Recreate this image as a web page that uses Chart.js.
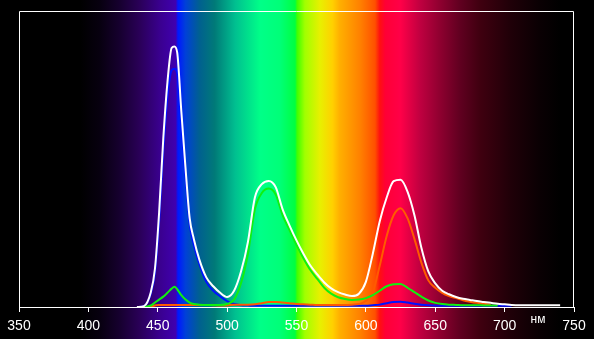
<!DOCTYPE html>
<html>
<head>
<meta charset="utf-8">
<script src="https://cdn.jsdelivr.net/npm/chart.js@4.4.0/dist/chart.umd.min.js"></script>
<style>
  html, body { margin: 0; padding: 0; background: #000; }
  #wrap { width: 594px; height: 339px; position: relative; }
</style>
</head>
<body>
<div id="wrap"><canvas id="spectrum"></canvas></div>
<script>
// wavelengths, nm
var wavelengths = [435, 440, 445, 448, 451, 454, 457, 460, 462, 464, 467, 470, 473, 476, 480, 485, 490, 495, 500, 505,
  510, 515, 520, 525, 530, 535, 540, 545, 550, 555, 560, 565, 570, 575, 580, 585, 590, 595, 600, 605,
  610, 615, 620, 625, 630, 635, 640, 645, 650, 655, 660, 665, 670, 675, 680, 685, 690, 695, 700, 705,
  710, 720, 730, 740];

// sum (white)
var whiteVals = [0, 0.3, 5, 13, 32, 57, 76, 87.5, 88, 86, 66, 47, 30, 23, 16, 10, 7, 4.8, 3.4, 5.5,
  12, 22, 37, 41.5, 42.6, 40.5, 33, 27.5, 22.5, 18, 14, 11, 8.3, 6.3, 5, 4.2, 3.7, 4.5, 8.5, 18,
  29, 37, 42.5, 43, 39, 31, 20, 12, 8, 5.5, 4.3, 3.4, 2.8, 2.4, 2, 1.7, 1.4, 1.1, 0.9, 0.7,
  0.6, 0.6, 0.6, 0.6];

var greenVals = [0, 0, 0.5, 1.5, 2.5, 3.5, 4.8, 6.2, 6.8, 6, 4, 2.5, 1.5, 1, 0.8, 0.7, 0.7, 0.7, 1, 2.5,
  8, 18, 33, 38.5, 40, 38, 31, 26, 21, 16.5, 12.5, 9.5, 6.5, 4.5, 3.3, 2.7, 2.4, 2.5, 3, 4,
  5.5, 7, 7.7, 7.8, 6.5, 5, 3.5, 2.2, 1.4, 1, 0.8, 0.7, 0.6, 0.6, 0.6, 0.5, 0.5, 0.5, null, null,
  null, null, null, null];

var blueVals = [0, 0.3, 4.5, 11.5, 29, 53, 71, 80, 80.5, 79, 61, 44, 28, 21, 14.5, 8.5, 5.5, 3.6, 2, 1,
  0.6, 0.5, 0.4, 0.4, 0.4, 0.4, 0.4, 0.4, 0.4, 0.4, 0.4, 0.4, 0.4, 0.4, 0.4, 0.4, 0.4, 0.4, 0.4, 0.6,
  0.8, 1.3, 1.7, 1.8, 1.5, 1.1, 0.8, 0.6, 0.5, 0.4, 0.4, 0.4, 0.4, 0.4, 0.4, 0.4, 0.4, 0.4, 0.4, 0.4,
  null, null, null, null];

var redVals = [0, 0, 0.2, 0.5, 0.7, 0.7, 0.7, 0.7, 0.7, 0.7, 0.7, 0.7, 0.7, 0.7, 0.7, 0.7, 0.6, 0.5, 0.5, 0.8,
  0.8, 0.8, 0.9, 1.3, 1.7, 1.7, 1.5, 1.3, 1, 0.9, 0.8, 0.7, 0.7, 0.7, 0.7, 0.7, 0.8, 1, 2, 5,
  14, 24, 31, 33.4, 30, 23, 15, 9, 6.5, 4.8, 3.7, 3, 2.3, 1.8, 1.4, 1.1, 0.8, null, null, null,
  null, null, null, null];

var xTicks = [350, 400, 450, 500, 550, 600, 650, 700, 750];
var unitLabel = 'нм';

// background spectrum colours: [nm, colour]
var spectrumStops = [
  [350, '#000000'], [394, '#000000'], [408, '#07000f'], [423, '#170030'], [437, '#2a0058'],
  [452, '#3a0090'], [463, '#4000b0'], [464.6, '#0018ff'], [470, '#0040d8'], [480, '#006090'],
  [491, '#007a78'], [506, '#00c090'], [524, '#00ff88'], [538, '#00ff78'], [549, '#00ff40'],
  [550.5, '#40ff00'], [556, '#a0ff00'], [567, '#e8f000'], [576, '#ffd000'], [581, '#ffb000'],
  [596, '#ff8000'], [606.6, '#ff5000'], [610, '#ff1010'], [614, '#ff0035'], [625, '#ff0048'],
  [639, '#c00040'], [653, '#900030'], [668, '#600020'], [682, '#400010'], [704, '#200008'],
  [725, '#0a0003'], [740, '#000000'], [750, '#000000']
];

function toPoints(vals) {
  return wavelengths.map(function(w, i) { return { x: w, y: vals[i] }; });
}

var spectrumBg = {
  id: 'spectrumBg',
  beforeDraw: function(chart) {
    var ctx = chart.ctx;
    var xs = chart.scales.x;
    var x0 = xs.getPixelForValue(350), x1 = xs.getPixelForValue(750);
    ctx.save();
    ctx.fillStyle = '#000';
    ctx.fillRect(0, 0, chart.width, chart.height);
    var g = ctx.createLinearGradient(x0, 0, x1, 0);
    spectrumStops.forEach(function(s) { g.addColorStop((s[0] - 350) / 400, s[1]); });
    ctx.fillStyle = g;
    ctx.fillRect(x0, 0, x1 - x0, chart.height);
    ctx.restore();
  },
  afterDraw: function(chart) {
    var ctx = chart.ctx;
    var a = chart.chartArea;
    ctx.save();
    ctx.strokeStyle = '#fff';
    ctx.lineWidth = 1;
    ctx.beginPath();
    ctx.moveTo(Math.round(a.left) + 0.5, a.bottom);
    ctx.lineTo(Math.round(a.left) + 0.5, Math.round(a.top) + 0.5);
    ctx.lineTo(Math.round(a.right) - 0.5, Math.round(a.top) + 0.5);
    ctx.lineTo(Math.round(a.right) - 0.5, a.bottom);
    ctx.stroke();
    ctx.fillStyle = '#fff';
    ctx.font = '12px "Liberation Sans", Arial, sans-serif';
    ctx.textAlign = 'center';
    ctx.textBaseline = 'middle';
    ctx.fillText(unitLabel, 538, 320);
    ctx.restore();
  }
};

var ctx = document.getElementById('spectrum').getContext('2d');
var chart = new Chart(ctx, {
  type: 'line',
  data: {
    datasets: [
      { label: 'blue', data: toPoints(blueVals), borderColor: '#0010ff', order: 4 },
      { label: 'red', data: toPoints(redVals), borderColor: '#ff5a00', order: 3 },
      { label: 'green', data: toPoints(greenVals), borderColor: '#10f010', order: 2 },
      { label: 'sum', data: toPoints(whiteVals), borderColor: '#ffffff', order: 1 }
    ]
  },
  options: {
    responsive: true,
    maintainAspectRatio: false,
    animation: false,
    layout: { padding: { left: 19, right: 20, top: 11, bottom: 0 } },
    elements: {
      point: { radius: 0 },
      line: { borderWidth: 2, cubicInterpolationMode: 'monotone', fill: false }
    },
    plugins: {
      legend: { display: false },
      tooltip: { enabled: false }
    },
    scales: {
      x: {
        type: 'linear',
        min: 350,
        max: 750,
        afterBuildTicks: function(scale) {
          scale.ticks = xTicks.map(function(v) { return { value: v }; });
        },
        afterFit: function(scale) { scale.height = 32; },
        grid: { drawOnChartArea: false, drawTicks: true, tickLength: 5, color: '#ffffff' },
        border: { color: '#ffffff', width: 1 },
        ticks: {
          color: '#ffffff',
          autoSkip: false,
          maxRotation: 0,
          padding: 6,
          font: { family: '"Liberation Sans", Arial, sans-serif', size: 14 }
        }
      },
      y: {
        display: false,
        min: 0,
        max: 100
      }
    }
  },
  plugins: [spectrumBg]
});
</script>
</body>
</html>
